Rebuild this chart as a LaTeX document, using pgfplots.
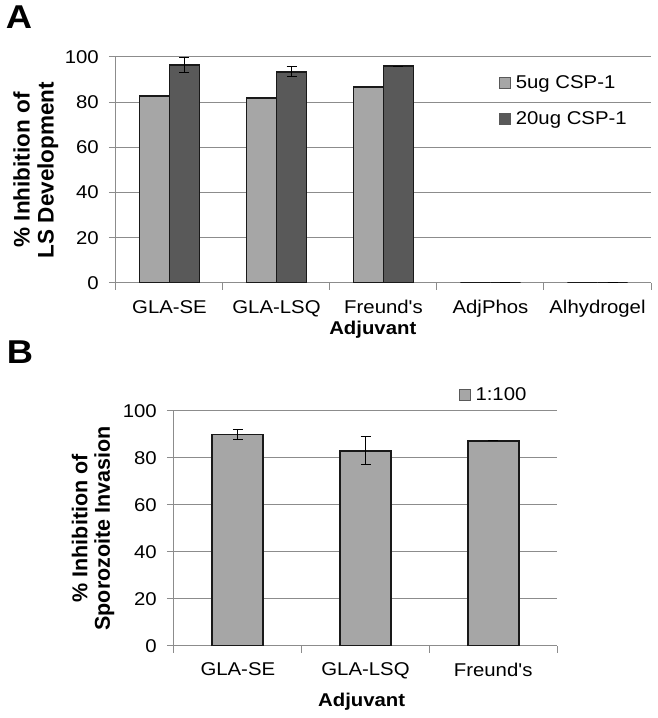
\documentclass[border=0pt]{standalone}
\usepackage{fontspec}
\setmainfont[FakeStretch=1.1, Ligatures=TeXOff]{Liberation Sans}
\newfontfamily\ylabfont{Liberation Sans}
\usepackage{pgfplots}
\usepackage{pgfplotstable}
\pgfplotsset{compat=1.18}

\definecolor{lightbar}{HTML}{A6A6A6}
\definecolor{darkbar}{HTML}{595959}
\definecolor{gridgray}{HTML}{8C8C8C}

% panel A: 5ug and 20ug CSP-1
\pgfplotstableread{
x y
1 82.7
2 81.7
3 86.6
4 0
5 0
}\lowA
\pgfplotstableread{
x y err
1 96.6 3.3
2 93.5 2.3
3 96.0 0
4 0 0
5 0 0
}\highA
% panel B: 1:100
\pgfplotstableread{
x y err
1 90.0 2.0
2 83.1 6.0
3 87.3 0
}\dataB

\pgfplotsset{
  excel/.style={
    scale only axis,
    axis x line*=bottom, axis y line*=left,
    axis line style={gridgray, line width=1pt, -},
    ymin=0, ymax=100, ytick={0,20,...,100},
    ymajorgrids, grid style={gridgray, line width=1pt},
    tick align=outside, major tick length=7pt, minor tick length=7pt,
    major x tick style={draw=none},
    minor x tick style={draw=gridgray, line width=1pt},
    ytick style={draw=gridgray, line width=1pt},
    /pgf/number format/assume math mode=true,
    ticklabel style={font=\fontsize{18.5}{20}\selectfont, inner sep=1pt},
    yticklabel style={xshift=-9pt},
    xticklabel style={yshift=-9pt},
    xlabel style={font=\bfseries\fontsize{18.5}{20}\selectfont},
    legend style={draw=none, fill=none, font=\fontsize{18.5}{20}\selectfont,
      legend cell align=left,
      /tikz/every odd column/.append style={column sep=3pt}},
    error bars/error bar style={black, line width=1pt},
    error bars/error mark options={rotate=90, mark size=5pt, black, line width=1pt},
  },
  sq/.style={legend image code/.code={%
    \draw[fill=#1, draw=black!65, line width=0.8pt] (0pt,-5.5pt) rectangle (11pt,5.5pt);}},
  barline/.style={draw=black!90, line width=1.8pt},
}

\begin{document}
\begin{tikzpicture}
\path[use as bounding box] (0pt,0pt) rectangle (657pt,718pt);

\begin{axis}[excel,
  at={(116pt,435pt)}, anchor=south west,
  width=535pt, height=226pt,
  xmin=0.5, xmax=5.5,
  xtick={1,...,5},
  xticklabels={GLA-SE, GLA-LSQ, Freund's, AdjPhos, Alhydrogel},
  minor xtick={0.5,1.5,...,5.5},
  ybar=0pt, bar width=30pt,
  xlabel={Adjuvant},
  xlabel style={at={(axis description cs:0.48,-0.208)}, anchor=center},
  ylabel={\ylabfont\bfseries\fontsize{22.5}{24}\selectfont \% Inhibition of\\LS Development},
  ylabel style={at={(axis description cs:-0.150,0.5)}, anchor=center,
    align=center, font=\ylabfont\bfseries\fontsize{22.5}{24}\selectfont},
  legend style={at={(rel axis cs:0.71,0.935)}, anchor=north west, row sep=17pt},
]
\addplot[barline, fill=lightbar, sq=lightbar]
  table[x=x, y=y] {\lowA};
\addplot[barline, fill=darkbar, sq=darkbar,
  error bars/.cd, y dir=both, y explicit]
  table[x=x, y=y, y error=err] {\highA};
\legend{5ug CSP-1, 20ug CSP-1}
\end{axis}

\begin{axis}[excel,
  at={(174pt,72.3pt)}, anchor=south west,
  width=383pt, height=234.7pt,
  xmin=0.5, xmax=3.5,
  xtick={1,2,3},
  xticklabels={GLA-SE, GLA-LSQ, Freund's},
  minor xtick={0.5,1.5,2.5,3.5},
  ybar, bar width=51pt,
  xlabel={Adjuvant},
  xlabel style={at={(axis description cs:0.49,-0.239)}, anchor=center},
  ylabel={\ylabfont\bfseries\fontsize{21.5}{22.5}\selectfont \% Inhibition of\\Sporozoite Invasion},
  ylabel style={at={(axis description cs:-0.211,0.5)}, anchor=center,
    align=center, font=\ylabfont\bfseries\fontsize{21.5}{22.5}\selectfont},
  legend style={at={(rel axis cs:0.735,1.118)}, anchor=north west},
]
\addplot[barline, fill=lightbar, sq=lightbar,
  error bars/.cd, y dir=both, y explicit]
  table[x=x, y=y, y error=err] {\dataB};
\legend{1:100}
\end{axis}

\node[font=\bfseries\fontsize{33}{33}\selectfont] at (19pt,701pt) {A};
\node[font=\bfseries\fontsize{33}{33}\selectfont] at (20pt,366pt) {B};
\end{tikzpicture}
\end{document}
